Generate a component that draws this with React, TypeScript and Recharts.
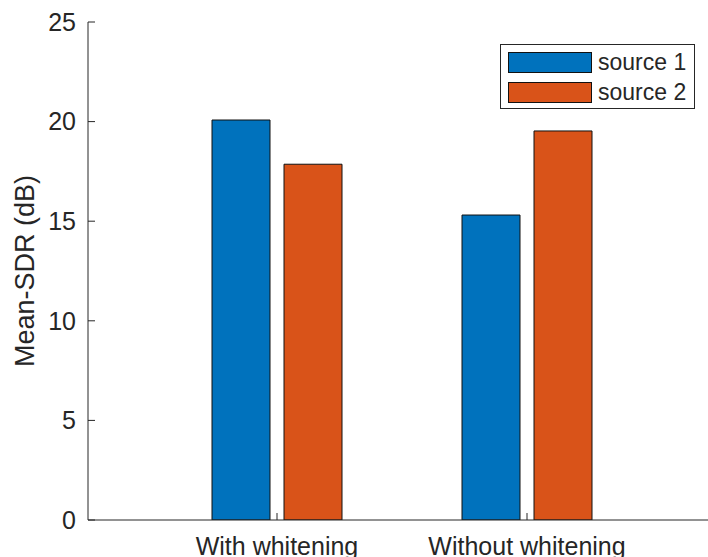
import { Bar, BarChart, Label, Legend, XAxis, YAxis } from "recharts";

const categories = ["With whitening", "Without whitening"];
const source1 = [20.08, 15.31];
const source2 = [17.86, 19.53];
const yTicks = [0, 5, 10, 15, 20, 25];
const seriesNames = ["source 1", "source 2"];

const BLUE = "#0072BD";
const ORANGE = "#D95319";
const INK = "#262626";

const data = categories.map((name, i) => ({
  name,
  s1: source1[i],
  s2: source2[i],
}));

function LegendBox() {
  const colors = [BLUE, ORANGE];
  return (
    <div
      style={{
        width: 193,
        height: 63,
        border: `1px solid ${INK}`,
        background: "#fff",
      }}
    >
      {seriesNames.map((s, i) => (
        <div
          key={s}
          style={{
            display: "flex",
            alignItems: "center",
            height: 30,
            marginTop: i === 0 ? 2 : 0,
            paddingLeft: 7,
          }}
        >
          <div
            style={{
              width: 82,
              height: 19,
              background: colors[i],
              border: "1px solid #111",
            }}
          />
          <span style={{ marginLeft: 6, fontSize: 23, color: INK, lineHeight: "30px" }}>{s}</span>
        </div>
      ))}
    </div>
  );
}

export default function App() {
  // absolute so the body's bottom margin doesn't add a scrollbar
  return (
    <div
      style={{
        position: "absolute",
        top: 8,
        left: 8,
        width: 700,
        height: 549,
        overflow: "hidden",
        fontFamily: "'Liberation Sans', Arial, sans-serif",
      }}
    >
      <BarChart
        width={720}
        height={549}
        data={data}
        margin={{ top: 14, right: 0, bottom: 0, left: 0 }}
        barSize={58}
        barGap={14}
      >
        <XAxis
          dataKey="name"
          height={37}
          padding={{ left: 64, right: 76 }}
          stroke={INK}
          tickSize={-7}
          tickMargin={24}
          tick={{ fill: INK, fontSize: 25 }}
          interval={0}
        />
        <XAxis
          xAxisId="top"
          dataKey="name"
          orientation="top"
          height={0}
          padding={{ left: 64, right: 76 }}
          stroke={INK}
          tickSize={-7}
          tick={false}
        />
        <YAxis
          width={80}
          domain={[0, 25]}
          ticks={yTicks}
          allowDataOverflow
          stroke={INK}
          tickSize={-7}
          tickMargin={19}
          tick={{ fill: INK, fontSize: 25 }}
        >
          <Label
            value="Mean-SDR (dB)"
            angle={-90}
            position="center"
            dx={-24}
            fill={INK}
            fontSize={27}
          />
        </YAxis>
        <Legend
          layout="vertical"
          align="center"
          verticalAlign="middle"
          wrapperStyle={{ top: 36, left: 492, width: 195 }}
          content={() => <LegendBox />}
        />
        <Bar dataKey="s1" name={seriesNames[0]} fill={BLUE} stroke="#111" strokeWidth={1} isAnimationActive={false} />
        <Bar dataKey="s2" name={seriesNames[1]} fill={ORANGE} stroke="#111" strokeWidth={1} isAnimationActive={false} />
      </BarChart>
    </div>
  );
}
